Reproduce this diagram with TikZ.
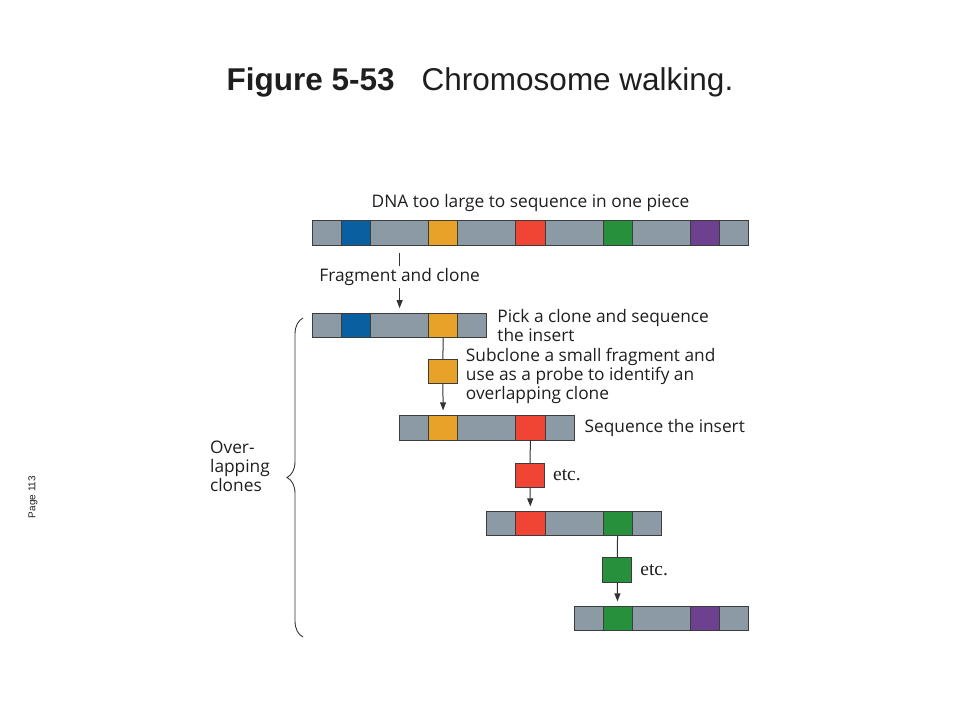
\documentclass[tikz,border=0pt]{standalone}
\usepackage{fontspec}
\setmainfont{Liberation Sans}
\newfontfamily\labelfont{Open Sans}
\newfontfamily\etcfont{Liberation Serif}
\usetikzlibrary{arrows.meta,positioning,decorations.pathreplacing}

\definecolor{segGray}{HTML}{8C9AA5}
\definecolor{segBlue}{HTML}{0A5FA0}
\definecolor{segOrange}{HTML}{E8A22A}
\definecolor{segRed}{HTML}{F04535}
\definecolor{segGreen}{HTML}{27903C}
\definecolor{segPurple}{HTML}{6E4090}
\definecolor{segEdge}{HTML}{3C3C3C}
\definecolor{lineCol}{HTML}{333333}
\definecolor{txtCol}{HTML}{1E1E1E}

\newcommand\segw{29.07}

\begin{document}
\begin{tikzpicture}[x=1pt,y=-1pt,>={Triangle[length=8pt,width=6pt]},
		seg/.style={draw=segEdge,line width=0.8pt,minimum height=24.5pt,inner sep=0pt,anchor=west},
		sub/.style={seg,minimum width=\segw pt,anchor=center},
		lbl/.style={font=\labelfont\fontsize{17.3}{19}\selectfont,text=txtCol,inner sep=0pt,align=left},
		etc/.style={font=\etcfont\fontsize{19.5}{22}\selectfont,text=txtCol,inner sep=0pt},
		link/.style={draw=lineCol,line width=1pt}]

		\useasboundingbox (0,0) rectangle (960,720);

		\node[text=txtCol] (title) at (480,82)
			{\fontsize{31.5}{36}\selectfont{\bfseries Figure 5-53}\hspace{27pt}Chromosome walking.};
		\node[font=\fontsize{10}{12}\selectfont,rotate=90,text=txtCol] (pageNo) at (33,497) {Page 113};

		% whole DNA
		\foreach \off/\w/\col [count=\i] in {0/1/segGray,1/1/segBlue,2/2/segGray,4/1/segOrange,
				5/2/segGray,7/1/segRed,8/2/segGray,10/1/segGreen,11/2/segGray,13/1/segPurple,14/1/segGray}
			\node[seg,fill=\col,minimum width=\w*\segw pt] (top\i) at (312+\off*\segw,232.8) {};

		% clones
		\foreach \off/\w/\col [count=\i] in {0/1/segGray,1/1/segBlue,2/2/segGray,4/1/segOrange,5/1/segGray}
			\node[seg,fill=\col,minimum width=\w*\segw pt] (first\i) at (312+\off*\segw,325.3) {};
		\foreach \off/\w/\col [count=\i] in {0/1/segGray,1/1/segOrange,2/2/segGray,4/1/segRed,5/1/segGray}
			\node[seg,fill=\col,minimum width=\w*\segw pt] (second\i) at (312+3*\segw+\off*\segw,428) {};
		\foreach \off/\w/\col [count=\i] in {0/1/segGray,1/1/segRed,2/2/segGray,4/1/segGreen,5/1/segGray}
			\node[seg,fill=\col,minimum width=\w*\segw pt] (third\i) at (312+6*\segw+\off*\segw,523.5) {};
		\foreach \off/\w/\col [count=\i] in {0/1/segGray,1/1/segGreen,2/2/segGray,4/1/segPurple,5/1/segGray}
			\node[seg,fill=\col,minimum width=\w*\segw pt] (fourth\i) at (312+9*\segw+\off*\segw,618.5) {};

		% subclones
		\node[sub,fill=segOrange] (osub) at (312+4.5*\segw,371.5) {};
		\node[sub,fill=segRed] (rsub) at (312+7.5*\segw,475.5) {};
		\node[sub,fill=segGreen] (gsub) at (312+10.5*\segw,570) {};

		% labels
		\node[lbl,above=8pt of top6] (dnaText) {DNA too large to sequence in one piece};
		\node[lbl,right=10pt of first5] (pickText) {Pick a clone and sequence\\the insert};
		\node[lbl,right=8pt of osub,yshift=-4.5pt] (subText)
			{Subclone a small fragment and\\use as a probe to identify an\\overlapping clone};
		\node[lbl,right=10pt of second5] (seqText) {Sequence the insert};
		\node[etc,right=8pt of rsub] (etcA) {etc.};
		\node[etc,right=8pt of gsub] (etcB) {etc.};

		\path
		(top3) edge[link,->,shorten <=8pt,shorten >=4.5pt]
			node[lbl,fill=white,inner sep=2pt,pos=0.47] (fragText) {Fragment and clone} (first3)
		(first4) edge[link]                     (osub)
		(osub)   edge[link,->,shorten >=5pt]    (second2)
		(second4) edge[link]                    (rsub)
		(rsub)   edge[link,->,shorten >=4.5pt]  (third2)
		(third4) edge[link]                     (gsub)
		(gsub)   edge[link,->,shorten >=4.5pt]  (fourth2);

		% overlapping clones
		\coordinate (braceTop) at (303,318);
		\coordinate (braceBot) at (303,637);
		\coordinate (braceTip) at (286,466);
		\draw[decorate,decoration={brace,amplitude=16pt},draw=lineCol,line width=0.9pt]
			(braceBot) -- (braceTop);
		\node[lbl,left=16pt of braceTip] (overText) {Over-\\lapping\\clones};
\end{tikzpicture}
\end{document}
